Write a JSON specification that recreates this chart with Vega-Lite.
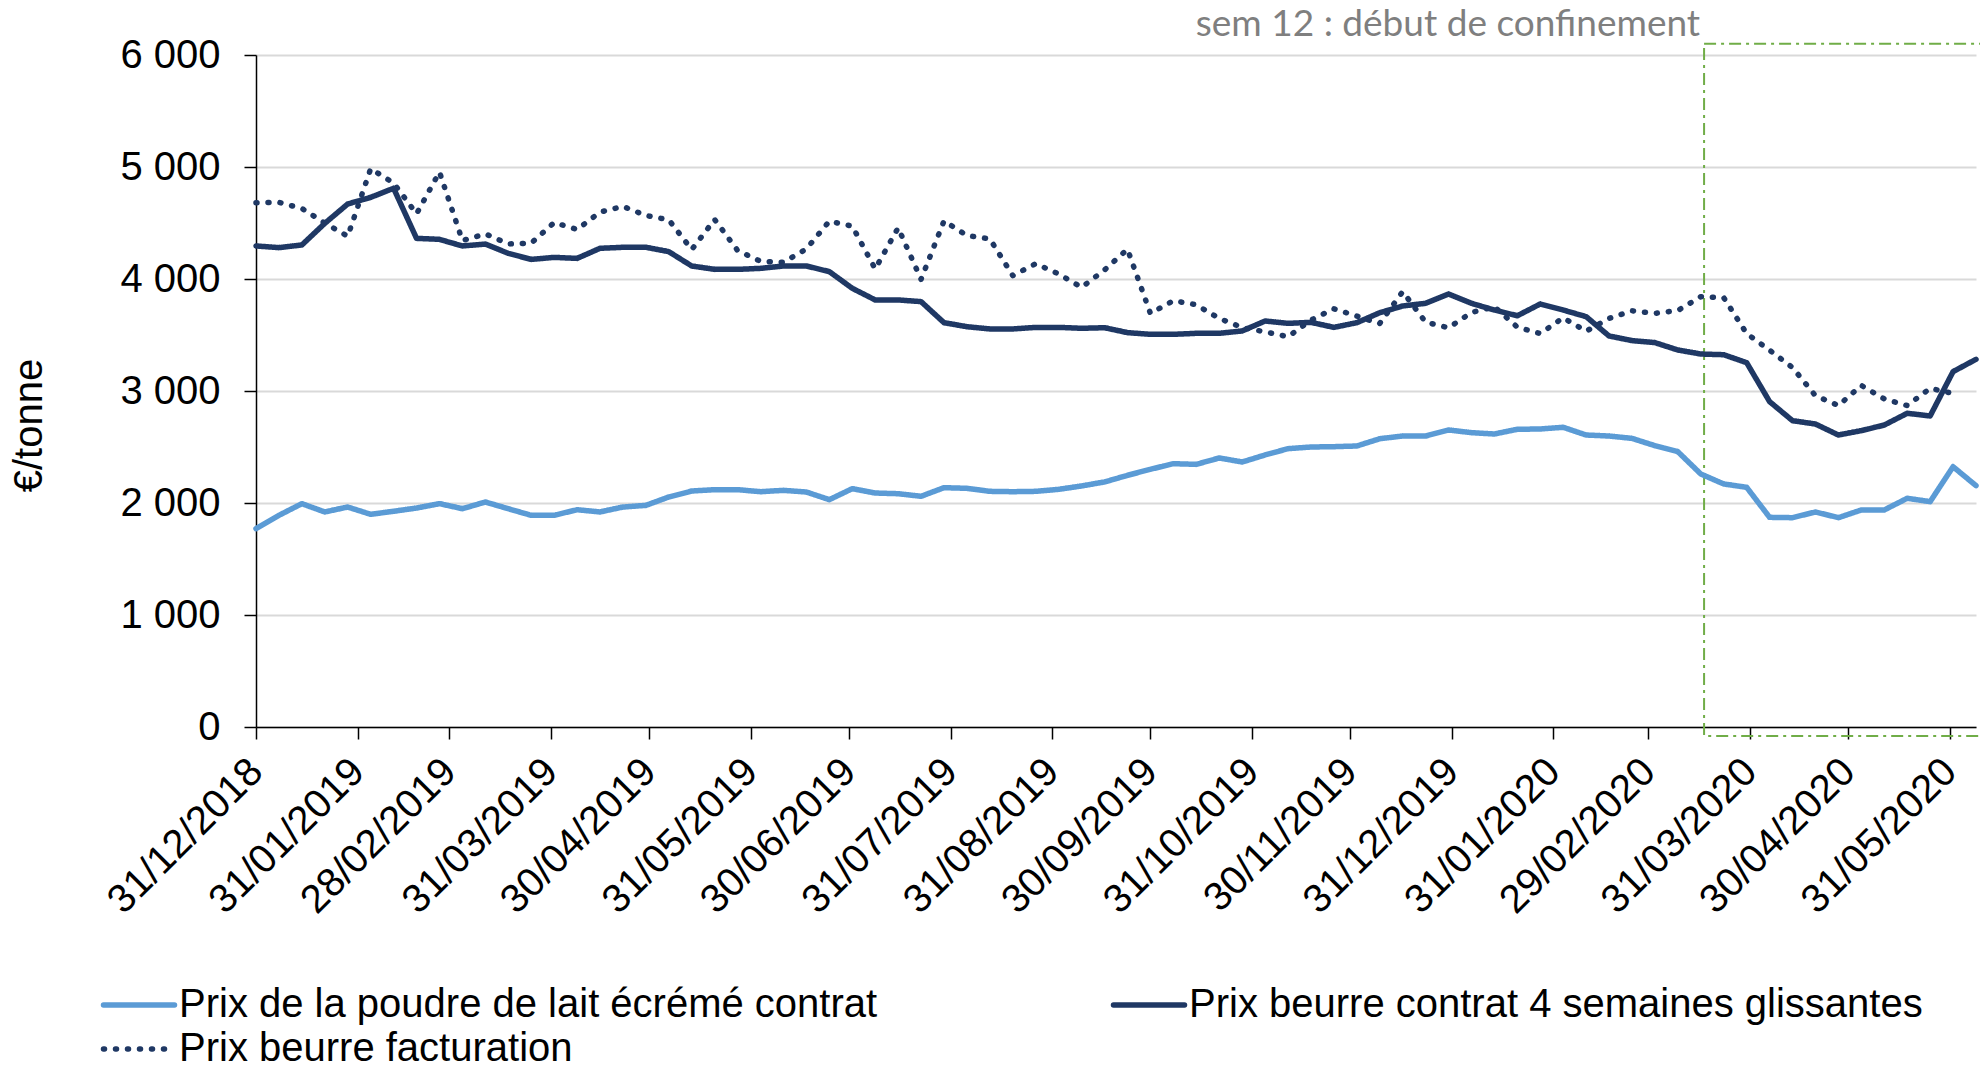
{
  "$schema": "https://vega.github.io/schema/vega-lite/v6.json",
  "width": 1720,
  "height": 672,
  "autosize": {"type": "none"},
  "padding": {"left": 256, "top": 55, "right": 4, "bottom": 342},
  "background": "white",
  "config": {"view": {"stroke": null}, "font": "Liberation Sans"},
  "encoding": {
    "x": {
      "field": "date", "type": "temporal",
      "scale": {"type": "utc", "domain": [{"year": 2018, "month": 12, "date": 31, "utc": true}, {"year": 2020, "month": 6, "date": 8, "utc": true}], "nice": false},
      "axis": {
        "title": null,
        "values": [
          {"year": 2018, "month": 12, "date": 31, "utc": true},
          {"year": 2019, "month": 1, "date": 31, "utc": true},
          {"year": 2019, "month": 2, "date": 28, "utc": true},
          {"year": 2019, "month": 3, "date": 31, "utc": true},
          {"year": 2019, "month": 4, "date": 30, "utc": true},
          {"year": 2019, "month": 5, "date": 31, "utc": true},
          {"year": 2019, "month": 6, "date": 30, "utc": true},
          {"year": 2019, "month": 7, "date": 31, "utc": true},
          {"year": 2019, "month": 8, "date": 31, "utc": true},
          {"year": 2019, "month": 9, "date": 30, "utc": true},
          {"year": 2019, "month": 10, "date": 31, "utc": true},
          {"year": 2019, "month": 11, "date": 30, "utc": true},
          {"year": 2019, "month": 12, "date": 31, "utc": true},
          {"year": 2020, "month": 1, "date": 31, "utc": true},
          {"year": 2020, "month": 2, "date": 29, "utc": true},
          {"year": 2020, "month": 3, "date": 31, "utc": true},
          {"year": 2020, "month": 4, "date": 30, "utc": true},
          {"year": 2020, "month": 5, "date": 31, "utc": true}
        ],
        "labelExpr": "utcFormat(datum.value, '%d/%m/%Y')",
        "labelAngle": -45,
        "labelAlign": "right",
        "labelBaseline": "middle",
        "labelPadding": 26,
        "labelFont": "Liberation Sans",
        "labelFontSize": 40,
        "labelColor": "black",
        "labelLimit": 500,
        "labelOverlap": false,
        "labelBound": false,
        "labelFlush": false,
        "tickSize": 12,
        "tickColor": "black",
        "tickWidth": 1.5,
        "domainColor": "black",
        "domainWidth": 1.5,
        "grid": false
      }
    },
    "y": {
      "field": "prix", "type": "quantitative",
      "scale": {"domain": [0, 6000], "nice": false},
      "axis": {
        "title": "€/tonne",
        "values": [0, 1000, 2000, 3000, 4000, 5000, 6000],
        "labelExpr": "replace(format(datum.value, ',.0f'), ',', ' ')",
        "labelFont": "Liberation Sans",
        "labelFontSize": 40,
        "labelColor": "black",
        "labelPadding": 24,
        "tickSize": 12,
        "tickColor": "black",
        "tickWidth": 1.5,
        "domainColor": "black",
        "domainWidth": 1.5,
        "grid": true,
        "gridColor": "#d9d9d9",
        "gridWidth": 2,
        "titleFont": "Liberation Sans",
        "titleFontSize": 40,
        "titleFontWeight": "normal",
        "titleColor": "black",
        "titlePadding": 70,
        "titleY": 370
      }
    }
  },
  "layer": [
    {
      "data": {"values": [{"date": "2020-03-17", "fin": "2020-06-10", "prix": -80, "haut": 6100}]},
      "mark": {"type": "rect", "filled": false, "stroke": "#70AD47", "strokeWidth": 2, "strokeDash": [12, 5, 3, 5]},
      "encoding": {
        "x2": {"field": "fin"},
        "y2": {"field": "haut"}
      }
    },
    {
      "data": {"values": [
        {"date":"2018-12-31","serie":"Prix beurre facturation","prix":4681},
        {"date":"2019-01-07","serie":"Prix beurre facturation","prix":4684},
        {"date":"2019-01-14","serie":"Prix beurre facturation","prix":4630},
        {"date":"2019-01-21","serie":"Prix beurre facturation","prix":4500},
        {"date":"2019-01-28","serie":"Prix beurre facturation","prix":4382},
        {"date":"2019-02-04","serie":"Prix beurre facturation","prix":4985},
        {"date":"2019-02-11","serie":"Prix beurre facturation","prix":4857},
        {"date":"2019-02-18","serie":"Prix beurre facturation","prix":4582},
        {"date":"2019-02-25","serie":"Prix beurre facturation","prix":4955},
        {"date":"2019-03-04","serie":"Prix beurre facturation","prix":4343},
        {"date":"2019-03-11","serie":"Prix beurre facturation","prix":4403},
        {"date":"2019-03-18","serie":"Prix beurre facturation","prix":4313},
        {"date":"2019-03-25","serie":"Prix beurre facturation","prix":4320},
        {"date":"2019-04-01","serie":"Prix beurre facturation","prix":4504},
        {"date":"2019-04-08","serie":"Prix beurre facturation","prix":4442},
        {"date":"2019-04-15","serie":"Prix beurre facturation","prix":4597},
        {"date":"2019-04-22","serie":"Prix beurre facturation","prix":4648},
        {"date":"2019-04-29","serie":"Prix beurre facturation","prix":4567},
        {"date":"2019-05-06","serie":"Prix beurre facturation","prix":4528},
        {"date":"2019-05-13","serie":"Prix beurre facturation","prix":4263},
        {"date":"2019-05-20","serie":"Prix beurre facturation","prix":4531},
        {"date":"2019-05-27","serie":"Prix beurre facturation","prix":4254},
        {"date":"2019-06-03","serie":"Prix beurre facturation","prix":4158},
        {"date":"2019-06-10","serie":"Prix beurre facturation","prix":4149},
        {"date":"2019-06-17","serie":"Prix beurre facturation","prix":4269},
        {"date":"2019-06-24","serie":"Prix beurre facturation","prix":4516},
        {"date":"2019-07-01","serie":"Prix beurre facturation","prix":4472},
        {"date":"2019-07-08","serie":"Prix beurre facturation","prix":4090},
        {"date":"2019-07-15","serie":"Prix beurre facturation","prix":4457},
        {"date":"2019-07-22","serie":"Prix beurre facturation","prix":3997},
        {"date":"2019-07-29","serie":"Prix beurre facturation","prix":4519},
        {"date":"2019-08-05","serie":"Prix beurre facturation","prix":4388},
        {"date":"2019-08-12","serie":"Prix beurre facturation","prix":4358},
        {"date":"2019-08-19","serie":"Prix beurre facturation","prix":4030},
        {"date":"2019-08-26","serie":"Prix beurre facturation","prix":4137},
        {"date":"2019-09-02","serie":"Prix beurre facturation","prix":4045},
        {"date":"2019-09-09","serie":"Prix beurre facturation","prix":3925},
        {"date":"2019-09-16","serie":"Prix beurre facturation","prix":4081},
        {"date":"2019-09-23","serie":"Prix beurre facturation","prix":4266},
        {"date":"2019-09-30","serie":"Prix beurre facturation","prix":3693},
        {"date":"2019-10-07","serie":"Prix beurre facturation","prix":3806},
        {"date":"2019-10-14","serie":"Prix beurre facturation","prix":3770},
        {"date":"2019-10-21","serie":"Prix beurre facturation","prix":3648},
        {"date":"2019-10-28","serie":"Prix beurre facturation","prix":3567},
        {"date":"2019-11-04","serie":"Prix beurre facturation","prix":3528},
        {"date":"2019-11-11","serie":"Prix beurre facturation","prix":3484},
        {"date":"2019-11-18","serie":"Prix beurre facturation","prix":3633},
        {"date":"2019-11-25","serie":"Prix beurre facturation","prix":3734},
        {"date":"2019-12-02","serie":"Prix beurre facturation","prix":3669},
        {"date":"2019-12-09","serie":"Prix beurre facturation","prix":3603},
        {"date":"2019-12-16","serie":"Prix beurre facturation","prix":3887},
        {"date":"2019-12-23","serie":"Prix beurre facturation","prix":3615},
        {"date":"2019-12-30","serie":"Prix beurre facturation","prix":3564},
        {"date":"2020-01-06","serie":"Prix beurre facturation","prix":3701},
        {"date":"2020-01-13","serie":"Prix beurre facturation","prix":3752},
        {"date":"2020-01-20","serie":"Prix beurre facturation","prix":3570},
        {"date":"2020-01-27","serie":"Prix beurre facturation","prix":3513},
        {"date":"2020-02-03","serie":"Prix beurre facturation","prix":3654},
        {"date":"2020-02-10","serie":"Prix beurre facturation","prix":3534},
        {"date":"2020-02-17","serie":"Prix beurre facturation","prix":3648},
        {"date":"2020-02-24","serie":"Prix beurre facturation","prix":3716},
        {"date":"2020-03-02","serie":"Prix beurre facturation","prix":3693},
        {"date":"2020-03-09","serie":"Prix beurre facturation","prix":3719},
        {"date":"2020-03-16","serie":"Prix beurre facturation","prix":3842},
        {"date":"2020-03-23","serie":"Prix beurre facturation","prix":3833},
        {"date":"2020-03-30","serie":"Prix beurre facturation","prix":3513},
        {"date":"2020-04-06","serie":"Prix beurre facturation","prix":3364},
        {"date":"2020-04-13","serie":"Prix beurre facturation","prix":3209},
        {"date":"2020-04-20","serie":"Prix beurre facturation","prix":2958},
        {"date":"2020-04-27","serie":"Prix beurre facturation","prix":2870},
        {"date":"2020-05-04","serie":"Prix beurre facturation","prix":3050},
        {"date":"2020-05-11","serie":"Prix beurre facturation","prix":2929},
        {"date":"2020-05-18","serie":"Prix beurre facturation","prix":2870},
        {"date":"2020-05-25","serie":"Prix beurre facturation","prix":3024},
        {"date":"2020-06-01","serie":"Prix beurre facturation","prix":2978},
        {"date":"2018-12-31","serie":"Prix de la poudre de lait écrémé contrat","prix":1771},
        {"date":"2019-01-07","serie":"Prix de la poudre de lait écrémé contrat","prix":1890},
        {"date":"2019-01-14","serie":"Prix de la poudre de lait écrémé contrat","prix":1994},
        {"date":"2019-01-21","serie":"Prix de la poudre de lait écrémé contrat","prix":1920},
        {"date":"2019-01-28","serie":"Prix de la poudre de lait écrémé contrat","prix":1964},
        {"date":"2019-02-04","serie":"Prix de la poudre de lait écrémé contrat","prix":1899},
        {"date":"2019-02-11","serie":"Prix de la poudre de lait écrémé contrat","prix":1926},
        {"date":"2019-02-18","serie":"Prix de la poudre de lait écrémé contrat","prix":1955},
        {"date":"2019-02-25","serie":"Prix de la poudre de lait écrémé contrat","prix":1994},
        {"date":"2019-03-04","serie":"Prix de la poudre de lait écrémé contrat","prix":1949},
        {"date":"2019-03-11","serie":"Prix de la poudre de lait écrémé contrat","prix":2009},
        {"date":"2019-03-18","serie":"Prix de la poudre de lait écrémé contrat","prix":1949},
        {"date":"2019-03-25","serie":"Prix de la poudre de lait écrémé contrat","prix":1890},
        {"date":"2019-04-01","serie":"Prix de la poudre de lait écrémé contrat","prix":1890},
        {"date":"2019-04-08","serie":"Prix de la poudre de lait écrémé contrat","prix":1940},
        {"date":"2019-04-15","serie":"Prix de la poudre de lait écrémé contrat","prix":1920},
        {"date":"2019-04-22","serie":"Prix de la poudre de lait écrémé contrat","prix":1964},
        {"date":"2019-04-29","serie":"Prix de la poudre de lait écrémé contrat","prix":1979},
        {"date":"2019-05-06","serie":"Prix de la poudre de lait écrémé contrat","prix":2054},
        {"date":"2019-05-13","serie":"Prix de la poudre de lait écrémé contrat","prix":2107},
        {"date":"2019-05-20","serie":"Prix de la poudre de lait écrémé contrat","prix":2119},
        {"date":"2019-05-27","serie":"Prix de la poudre de lait écrémé contrat","prix":2119},
        {"date":"2019-06-03","serie":"Prix de la poudre de lait écrémé contrat","prix":2101},
        {"date":"2019-06-10","serie":"Prix de la poudre de lait écrémé contrat","prix":2113},
        {"date":"2019-06-17","serie":"Prix de la poudre de lait écrémé contrat","prix":2098},
        {"date":"2019-06-24","serie":"Prix de la poudre de lait écrémé contrat","prix":2030},
        {"date":"2019-07-01","serie":"Prix de la poudre de lait écrémé contrat","prix":2128},
        {"date":"2019-07-08","serie":"Prix de la poudre de lait écrémé contrat","prix":2089},
        {"date":"2019-07-15","serie":"Prix de la poudre de lait écrémé contrat","prix":2083},
        {"date":"2019-07-22","serie":"Prix de la poudre de lait écrémé contrat","prix":2060},
        {"date":"2019-07-29","serie":"Prix de la poudre de lait écrémé contrat","prix":2137},
        {"date":"2019-08-05","serie":"Prix de la poudre de lait écrémé contrat","prix":2131},
        {"date":"2019-08-12","serie":"Prix de la poudre de lait écrémé contrat","prix":2104},
        {"date":"2019-08-19","serie":"Prix de la poudre de lait écrémé contrat","prix":2101},
        {"date":"2019-08-26","serie":"Prix de la poudre de lait écrémé contrat","prix":2104},
        {"date":"2019-09-02","serie":"Prix de la poudre de lait écrémé contrat","prix":2122},
        {"date":"2019-09-09","serie":"Prix de la poudre de lait écrémé contrat","prix":2152},
        {"date":"2019-09-16","serie":"Prix de la poudre de lait écrémé contrat","prix":2188},
        {"date":"2019-09-23","serie":"Prix de la poudre de lait écrémé contrat","prix":2247},
        {"date":"2019-09-30","serie":"Prix de la poudre de lait écrémé contrat","prix":2301},
        {"date":"2019-10-07","serie":"Prix de la poudre de lait écrémé contrat","prix":2351},
        {"date":"2019-10-14","serie":"Prix de la poudre de lait écrémé contrat","prix":2345},
        {"date":"2019-10-21","serie":"Prix de la poudre de lait écrémé contrat","prix":2402},
        {"date":"2019-10-28","serie":"Prix de la poudre de lait écrémé contrat","prix":2366},
        {"date":"2019-11-04","serie":"Prix de la poudre de lait écrémé contrat","prix":2429},
        {"date":"2019-11-11","serie":"Prix de la poudre de lait écrémé contrat","prix":2485},
        {"date":"2019-11-18","serie":"Prix de la poudre de lait écrémé contrat","prix":2500},
        {"date":"2019-11-25","serie":"Prix de la poudre de lait écrémé contrat","prix":2503},
        {"date":"2019-12-02","serie":"Prix de la poudre de lait écrémé contrat","prix":2509},
        {"date":"2019-12-09","serie":"Prix de la poudre de lait écrémé contrat","prix":2574},
        {"date":"2019-12-16","serie":"Prix de la poudre de lait écrémé contrat","prix":2598},
        {"date":"2019-12-23","serie":"Prix de la poudre de lait écrémé contrat","prix":2598},
        {"date":"2019-12-30","serie":"Prix de la poudre de lait écrémé contrat","prix":2652},
        {"date":"2020-01-06","serie":"Prix de la poudre de lait écrémé contrat","prix":2628},
        {"date":"2020-01-13","serie":"Prix de la poudre de lait écrémé contrat","prix":2616},
        {"date":"2020-01-20","serie":"Prix de la poudre de lait écrémé contrat","prix":2658},
        {"date":"2020-01-27","serie":"Prix de la poudre de lait écrémé contrat","prix":2661},
        {"date":"2020-02-03","serie":"Prix de la poudre de lait écrémé contrat","prix":2676},
        {"date":"2020-02-10","serie":"Prix de la poudre de lait écrémé contrat","prix":2607},
        {"date":"2020-02-17","serie":"Prix de la poudre de lait écrémé contrat","prix":2598},
        {"date":"2020-02-24","serie":"Prix de la poudre de lait écrémé contrat","prix":2577},
        {"date":"2020-03-02","serie":"Prix de la poudre de lait écrémé contrat","prix":2512},
        {"date":"2020-03-09","serie":"Prix de la poudre de lait écrémé contrat","prix":2458},
        {"date":"2020-03-16","serie":"Prix de la poudre de lait écrémé contrat","prix":2259},
        {"date":"2020-03-23","serie":"Prix de la poudre de lait écrémé contrat","prix":2170},
        {"date":"2020-03-30","serie":"Prix de la poudre de lait écrémé contrat","prix":2140},
        {"date":"2020-04-06","serie":"Prix de la poudre de lait écrémé contrat","prix":1872},
        {"date":"2020-04-13","serie":"Prix de la poudre de lait écrémé contrat","prix":1869},
        {"date":"2020-04-20","serie":"Prix de la poudre de lait écrémé contrat","prix":1920},
        {"date":"2020-04-27","serie":"Prix de la poudre de lait écrémé contrat","prix":1869},
        {"date":"2020-05-04","serie":"Prix de la poudre de lait écrémé contrat","prix":1938},
        {"date":"2020-05-11","serie":"Prix de la poudre de lait écrémé contrat","prix":1938},
        {"date":"2020-05-18","serie":"Prix de la poudre de lait écrémé contrat","prix":2042},
        {"date":"2020-05-25","serie":"Prix de la poudre de lait écrémé contrat","prix":2012},
        {"date":"2020-06-01","serie":"Prix de la poudre de lait écrémé contrat","prix":2324},
        {"date":"2020-06-08","serie":"Prix de la poudre de lait écrémé contrat","prix":2155},
        {"date":"2018-12-31","serie":"Prix beurre contrat 4 semaines glissantes","prix":4295},
        {"date":"2019-01-07","serie":"Prix beurre contrat 4 semaines glissantes","prix":4280},
        {"date":"2019-01-14","serie":"Prix beurre contrat 4 semaines glissantes","prix":4304},
        {"date":"2019-01-21","serie":"Prix beurre contrat 4 semaines glissantes","prix":4497},
        {"date":"2019-01-28","serie":"Prix beurre contrat 4 semaines glissantes","prix":4670},
        {"date":"2019-02-04","serie":"Prix beurre contrat 4 semaines glissantes","prix":4729},
        {"date":"2019-02-11","serie":"Prix beurre contrat 4 semaines glissantes","prix":4810},
        {"date":"2019-02-18","serie":"Prix beurre contrat 4 semaines glissantes","prix":4363},
        {"date":"2019-02-25","serie":"Prix beurre contrat 4 semaines glissantes","prix":4354},
        {"date":"2019-03-04","serie":"Prix beurre contrat 4 semaines glissantes","prix":4295},
        {"date":"2019-03-11","serie":"Prix beurre contrat 4 semaines glissantes","prix":4312},
        {"date":"2019-03-18","serie":"Prix beurre contrat 4 semaines glissantes","prix":4229},
        {"date":"2019-03-25","serie":"Prix beurre contrat 4 semaines glissantes","prix":4175},
        {"date":"2019-04-01","serie":"Prix beurre contrat 4 semaines glissantes","prix":4193},
        {"date":"2019-04-08","serie":"Prix beurre contrat 4 semaines glissantes","prix":4184},
        {"date":"2019-04-15","serie":"Prix beurre contrat 4 semaines glissantes","prix":4274},
        {"date":"2019-04-22","serie":"Prix beurre contrat 4 semaines glissantes","prix":4283},
        {"date":"2019-04-29","serie":"Prix beurre contrat 4 semaines glissantes","prix":4283},
        {"date":"2019-05-06","serie":"Prix beurre contrat 4 semaines glissantes","prix":4244},
        {"date":"2019-05-13","serie":"Prix beurre contrat 4 semaines glissantes","prix":4116},
        {"date":"2019-05-20","serie":"Prix beurre contrat 4 semaines glissantes","prix":4086},
        {"date":"2019-05-27","serie":"Prix beurre contrat 4 semaines glissantes","prix":4086},
        {"date":"2019-06-03","serie":"Prix beurre contrat 4 semaines glissantes","prix":4095},
        {"date":"2019-06-10","serie":"Prix beurre contrat 4 semaines glissantes","prix":4116},
        {"date":"2019-06-17","serie":"Prix beurre contrat 4 semaines glissantes","prix":4116},
        {"date":"2019-06-24","serie":"Prix beurre contrat 4 semaines glissantes","prix":4066},
        {"date":"2019-07-01","serie":"Prix beurre contrat 4 semaines glissantes","prix":3917},
        {"date":"2019-07-08","serie":"Prix beurre contrat 4 semaines glissantes","prix":3813},
        {"date":"2019-07-15","serie":"Prix beurre contrat 4 semaines glissantes","prix":3813},
        {"date":"2019-07-22","serie":"Prix beurre contrat 4 semaines glissantes","prix":3798},
        {"date":"2019-07-29","serie":"Prix beurre contrat 4 semaines glissantes","prix":3610},
        {"date":"2019-08-05","serie":"Prix beurre contrat 4 semaines glissantes","prix":3574},
        {"date":"2019-08-12","serie":"Prix beurre contrat 4 semaines glissantes","prix":3554},
        {"date":"2019-08-19","serie":"Prix beurre contrat 4 semaines glissantes","prix":3554},
        {"date":"2019-08-26","serie":"Prix beurre contrat 4 semaines glissantes","prix":3568},
        {"date":"2019-09-02","serie":"Prix beurre contrat 4 semaines glissantes","prix":3568},
        {"date":"2019-09-09","serie":"Prix beurre contrat 4 semaines glissantes","prix":3560},
        {"date":"2019-09-16","serie":"Prix beurre contrat 4 semaines glissantes","prix":3565},
        {"date":"2019-09-23","serie":"Prix beurre contrat 4 semaines glissantes","prix":3521},
        {"date":"2019-09-30","serie":"Prix beurre contrat 4 semaines glissantes","prix":3506},
        {"date":"2019-10-07","serie":"Prix beurre contrat 4 semaines glissantes","prix":3506},
        {"date":"2019-10-14","serie":"Prix beurre contrat 4 semaines glissantes","prix":3515},
        {"date":"2019-10-21","serie":"Prix beurre contrat 4 semaines glissantes","prix":3515},
        {"date":"2019-10-28","serie":"Prix beurre contrat 4 semaines glissantes","prix":3536},
        {"date":"2019-11-04","serie":"Prix beurre contrat 4 semaines glissantes","prix":3625},
        {"date":"2019-11-11","serie":"Prix beurre contrat 4 semaines glissantes","prix":3604},
        {"date":"2019-11-18","serie":"Prix beurre contrat 4 semaines glissantes","prix":3613},
        {"date":"2019-11-25","serie":"Prix beurre contrat 4 semaines glissantes","prix":3568},
        {"date":"2019-12-02","serie":"Prix beurre contrat 4 semaines glissantes","prix":3610},
        {"date":"2019-12-09","serie":"Prix beurre contrat 4 semaines glissantes","prix":3699},
        {"date":"2019-12-16","serie":"Prix beurre contrat 4 semaines glissantes","prix":3759},
        {"date":"2019-12-23","serie":"Prix beurre contrat 4 semaines glissantes","prix":3783},
        {"date":"2019-12-30","serie":"Prix beurre contrat 4 semaines glissantes","prix":3866},
        {"date":"2020-01-06","serie":"Prix beurre contrat 4 semaines glissantes","prix":3783},
        {"date":"2020-01-13","serie":"Prix beurre contrat 4 semaines glissantes","prix":3723},
        {"date":"2020-01-20","serie":"Prix beurre contrat 4 semaines glissantes","prix":3672},
        {"date":"2020-01-27","serie":"Prix beurre contrat 4 semaines glissantes","prix":3777},
        {"date":"2020-02-03","serie":"Prix beurre contrat 4 semaines glissantes","prix":3723},
        {"date":"2020-02-10","serie":"Prix beurre contrat 4 semaines glissantes","prix":3664},
        {"date":"2020-02-17","serie":"Prix beurre contrat 4 semaines glissantes","prix":3491},
        {"date":"2020-02-24","serie":"Prix beurre contrat 4 semaines glissantes","prix":3450},
        {"date":"2020-03-02","serie":"Prix beurre contrat 4 semaines glissantes","prix":3432},
        {"date":"2020-03-09","serie":"Prix beurre contrat 4 semaines glissantes","prix":3366},
        {"date":"2020-03-16","serie":"Prix beurre contrat 4 semaines glissantes","prix":3330},
        {"date":"2020-03-23","serie":"Prix beurre contrat 4 semaines glissantes","prix":3324},
        {"date":"2020-03-30","serie":"Prix beurre contrat 4 semaines glissantes","prix":3253},
        {"date":"2020-04-06","serie":"Prix beurre contrat 4 semaines glissantes","prix":2905},
        {"date":"2020-04-13","serie":"Prix beurre contrat 4 semaines glissantes","prix":2735},
        {"date":"2020-04-20","serie":"Prix beurre contrat 4 semaines glissantes","prix":2705},
        {"date":"2020-04-27","serie":"Prix beurre contrat 4 semaines glissantes","prix":2607},
        {"date":"2020-05-04","serie":"Prix beurre contrat 4 semaines glissantes","prix":2646},
        {"date":"2020-05-11","serie":"Prix beurre contrat 4 semaines glissantes","prix":2696},
        {"date":"2020-05-18","serie":"Prix beurre contrat 4 semaines glissantes","prix":2801},
        {"date":"2020-05-25","serie":"Prix beurre contrat 4 semaines glissantes","prix":2777},
        {"date":"2020-06-01","serie":"Prix beurre contrat 4 semaines glissantes","prix":3173},
        {"date":"2020-06-08","serie":"Prix beurre contrat 4 semaines glissantes","prix":3283}
      ]},
      "mark": {"type": "line", "strokeWidth": 5.5, "strokeCap": "round", "strokeJoin": "round"},
      "encoding": {
        "color": {
          "field": "serie", "type": "nominal",
          "scale": {
            "domain": ["Prix de la poudre de lait écrémé contrat", "Prix beurre contrat 4 semaines glissantes", "Prix beurre facturation"],
            "range": ["#5B9BD5", "#1F3864", "#1F3864"]
          },
          "legend": {
            "title": null,
            "orient": "none",
            "legendX": -137,
            "legendY": 930,
            "direction": "horizontal",
            "columns": 2,
            "columnPadding": 224,
            "rowPadding": 4,
            "symbolType": "M-3.55,0H3.55",
            "symbolSize": 400,
            "symbolStrokeWidth": 5.5,
            "symbolFillColor": "transparent",
            "labelFont": "Liberation Sans",
            "labelFontSize": 40,
            "labelColor": "black",
            "labelLimit": 1200,
            "labelOffset": 20,
            "encoding": {"symbols": {"strokeCap": {"value": "round"}}}
          }
        },
        "strokeDash": {
          "field": "serie", "type": "nominal",
          "scale": {
            "domain": ["Prix de la poudre de lait écrémé contrat", "Prix beurre contrat 4 semaines glissantes", "Prix beurre facturation"],
            "range": [[1, 0], [1, 0], [1, 11]]
          },
          "legend": {
            "title": null,
            "orient": "none",
            "legendX": -137,
            "legendY": 930,
            "direction": "horizontal",
            "columns": 2,
            "columnPadding": 224,
            "rowPadding": 4,
            "symbolType": "M-3.55,0H3.55",
            "symbolSize": 400,
            "symbolStrokeWidth": 5.5,
            "symbolFillColor": "transparent",
            "labelFont": "Liberation Sans",
            "labelFontSize": 40,
            "labelColor": "black",
            "labelLimit": 1200,
            "labelOffset": 20,
            "encoding": {"symbols": {"strokeCap": {"value": "round"}}}
          }
        }
      }
    },
    {
      "data": {"values": [{"date": "2020-03-17", "prix": 6000, "t": "sem 12 : début de confinement"}]},
      "mark": {"type": "text", "align": "right", "baseline": "middle", "dx": -4, "dy": -30, "font": "Lato", "fontSize": 37, "color": "#7f7f7f"},
      "encoding": {
        "text": {"field": "t"}
      }
    }
  ]
}
